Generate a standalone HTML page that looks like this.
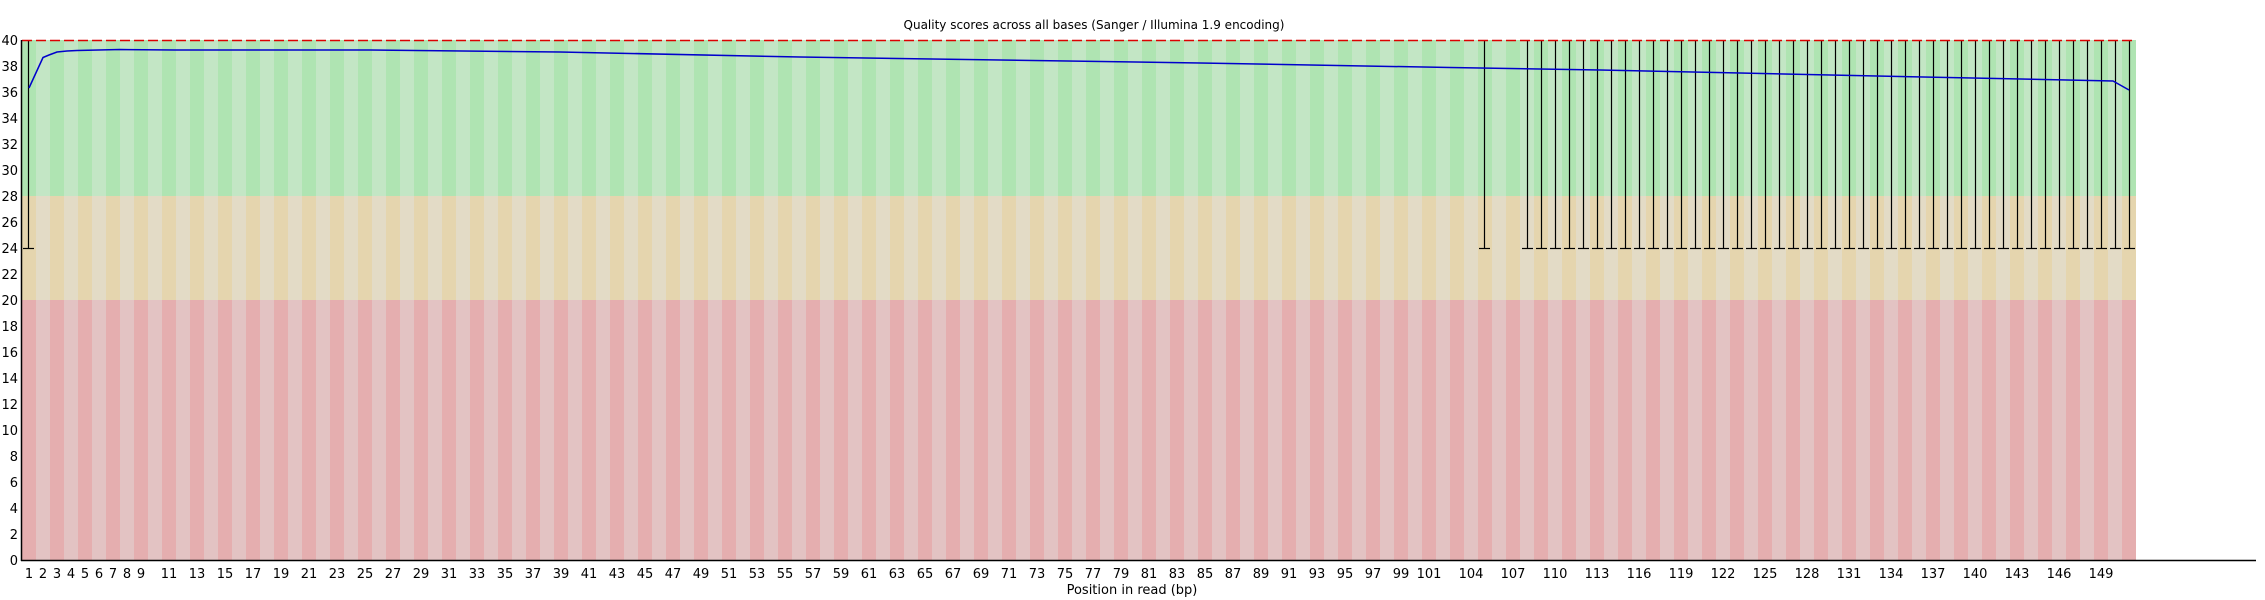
<!DOCTYPE html>
<html><head><meta charset="utf-8"><style>
html,body{margin:0;padding:0;background:#fff;}
svg{display:block;font-family:"DejaVu Sans","Liberation Sans",sans-serif;}
</style></head><body>
<svg width="2265" height="600" viewBox="0 0 2265 600" xmlns="http://www.w3.org/2000/svg">
<defs>
<pattern id="g" x="22" y="0" width="28" height="600" patternUnits="userSpaceOnUse">
<rect x="0" y="0" width="14" height="600" fill="#afe4b2"/><rect x="14" y="0" width="14" height="600" fill="#c3e6c5"/></pattern>
<pattern id="t" x="22" y="0" width="28" height="600" patternUnits="userSpaceOnUse">
<rect x="0" y="0" width="14" height="600" fill="#e5d5ae"/><rect x="14" y="0" width="14" height="600" fill="#e3dbc6"/></pattern>
<pattern id="r" x="22" y="0" width="28" height="600" patternUnits="userSpaceOnUse">
<rect x="0" y="0" width="14" height="600" fill="#e5aeaf"/><rect x="14" y="0" width="14" height="600" fill="#e3c3c3"/></pattern>
<pattern id="eb" x="1520" y="0" width="14" height="600" patternUnits="userSpaceOnUse">
<line x1="7.5" y1="40" x2="7.5" y2="248" stroke="#000" stroke-width="1.2"/>
<line x1="2" y1="248.5" x2="13" y2="248.5" stroke="#000" stroke-width="1.2"/></pattern>
</defs>
<rect x="22" y="40" width="2114" height="156" fill="url(#g)"/>
<rect x="22" y="196" width="2114" height="104" fill="url(#t)"/>
<rect x="22" y="300" width="2114" height="260" fill="url(#r)"/>
<rect x="1520" y="40" width="616" height="212" fill="url(#eb)"/>
<line x1="28.5" y1="40" x2="28.5" y2="248" stroke="#000" stroke-width="1.2"/>
<line x1="23" y1="248.5" x2="34" y2="248.5" stroke="#000" stroke-width="1.2"/>
<line x1="1484.5" y1="40" x2="1484.5" y2="248" stroke="#000" stroke-width="1.2"/>
<line x1="1479" y1="248.5" x2="1490" y2="248.5" stroke="#000" stroke-width="1.2"/>
<line x1="22" y1="40.5" x2="2136" y2="40.5" stroke="#d00" stroke-width="1.5" stroke-dasharray="10 4"/>
<polyline fill="none" stroke="#0000cc" stroke-width="1.5" points="29,88 43,57.5 49,55 57,52 67,51 77,50.5 120,49.5 175,50 370,50 560,52 800,57 1000,60 1200,63 1450,67.5 1600,70 1740,73 1900,76.5 2113,81 2129,90"/>
<line x1="21.5" y1="40" x2="21.5" y2="561" stroke="#000" stroke-width="1.5"/>
<line x1="21" y1="560.5" x2="2256" y2="560.5" stroke="#000" stroke-width="1.5"/>
<text x="1094" y="29" font-size="12" text-anchor="middle">Quality scores across all bases (Sanger / Illumina 1.9 encoding)</text>
<text x="1132" y="594" font-size="13" text-anchor="middle">Position in read (bp)</text>
<g font-size="13" text-anchor="end">
<text x="18" y="45">40</text><text x="18" y="71">38</text><text x="18" y="97">36</text><text x="18" y="123">34</text><text x="18" y="149">32</text><text x="18" y="175">30</text><text x="18" y="201">28</text><text x="18" y="227">26</text><text x="18" y="253">24</text><text x="18" y="279">22</text><text x="18" y="305">20</text><text x="18" y="331">18</text><text x="18" y="357">16</text><text x="18" y="383">14</text><text x="18" y="409">12</text><text x="18" y="435">10</text><text x="18" y="461">8</text><text x="18" y="487">6</text><text x="18" y="513">4</text><text x="18" y="539">2</text><text x="18" y="565">0</text>
</g>
<g font-size="13" text-anchor="middle">
<text x="29" y="578">1</text><text x="43" y="578">2</text><text x="57" y="578">3</text><text x="71" y="578">4</text><text x="85" y="578">5</text><text x="99" y="578">6</text><text x="113" y="578">7</text><text x="127" y="578">8</text><text x="141" y="578">9</text>
<text x="169" y="578">11</text><text x="197" y="578">13</text><text x="225" y="578">15</text><text x="253" y="578">17</text><text x="281" y="578">19</text><text x="309" y="578">21</text><text x="337" y="578">23</text><text x="365" y="578">25</text><text x="393" y="578">27</text><text x="421" y="578">29</text><text x="449" y="578">31</text><text x="477" y="578">33</text><text x="505" y="578">35</text><text x="533" y="578">37</text><text x="561" y="578">39</text><text x="589" y="578">41</text><text x="617" y="578">43</text><text x="645" y="578">45</text><text x="673" y="578">47</text><text x="701" y="578">49</text><text x="729" y="578">51</text><text x="757" y="578">53</text><text x="785" y="578">55</text><text x="813" y="578">57</text><text x="841" y="578">59</text><text x="869" y="578">61</text><text x="897" y="578">63</text><text x="925" y="578">65</text><text x="953" y="578">67</text><text x="981" y="578">69</text><text x="1009" y="578">71</text><text x="1037" y="578">73</text><text x="1065" y="578">75</text><text x="1093" y="578">77</text><text x="1121" y="578">79</text><text x="1149" y="578">81</text><text x="1177" y="578">83</text><text x="1205" y="578">85</text><text x="1233" y="578">87</text><text x="1261" y="578">89</text><text x="1289" y="578">91</text><text x="1317" y="578">93</text><text x="1345" y="578">95</text><text x="1373" y="578">97</text><text x="1401" y="578">99</text><text x="1429" y="578">101</text>
<text x="1471" y="578">104</text><text x="1513" y="578">107</text><text x="1555" y="578">110</text><text x="1597" y="578">113</text><text x="1639" y="578">116</text><text x="1681" y="578">119</text><text x="1723" y="578">122</text><text x="1765" y="578">125</text><text x="1807" y="578">128</text><text x="1849" y="578">131</text><text x="1891" y="578">134</text><text x="1933" y="578">137</text><text x="1975" y="578">140</text><text x="2017" y="578">143</text><text x="2059" y="578">146</text><text x="2101" y="578">149</text>
</g>
</svg>
</body></html>
